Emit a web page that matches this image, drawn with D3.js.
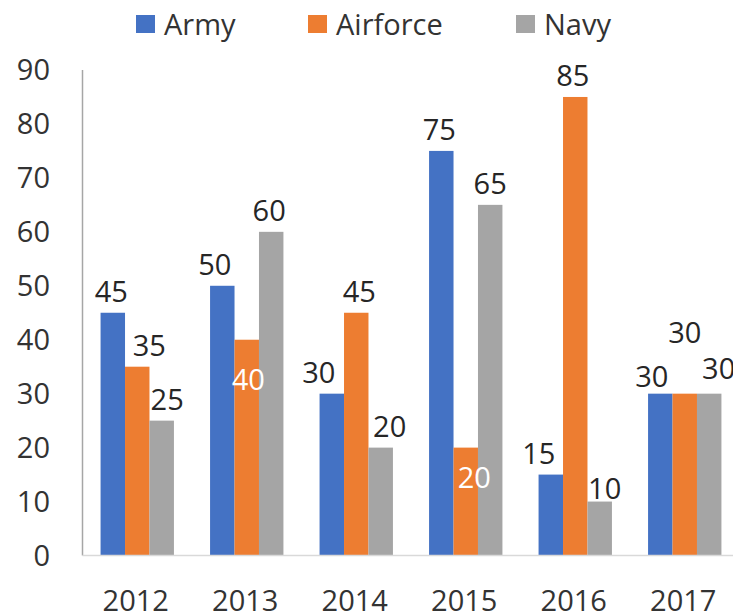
<!DOCTYPE html>
<meta charset="utf-8">
<script src="https://d3js.org/d3.v7.min.js"></script>
<style>
  body { margin: 0; background: #fff; }
  text { font-family: "Open Sans", sans-serif; }
</style>
<div id="chart"></div>
<script>

// data
var years = ["2012", "2013", "2014", "2015", "2016", "2017"];
var seriesNames = ["Army", "Airforce", "Navy"];
var army = [45, 50, 30, 75, 15, 30];
var airforce = [35, 40, 45, 20, 85, 30];
var navy = [25, 60, 20, 65, 10, 30];
var yTicks = [0, 10, 20, 30, 40, 50, 60, 70, 80, 90];

var values = { Army: army, Airforce: airforce, Navy: navy };
var colors = { Army: "#4472C4", Airforce: "#ED7D31", Navy: "#A5A5A5" };

// label nudges [dx, dy] - the original moved some labels around to avoid overlaps
var nudge = {
  Army:     [[-1.5, 0], [-7.5, 0], [-13, 0], [-2, 0], [-12, 0], [-8.5, 3.5]],
  Airforce: [[12, 0], [1.5, 61], [3, 0], [8.5, 51], [-2.5, 0], [0, -40.5]],
  Navy:     [[5.5, 0], [-2, 0], [9, 0], [0, 0], [5, 8], [9.5, -4.5]]
};
// labels drawn inside the bar in white
var insideLabel = { "Airforce-1": true, "Airforce-3": true };

var width = 733, height = 615;
var svg = d3.select("#chart").append("svg")
    .attr("width", width)
    .attr("height", height);

var x0 = d3.scaleBand()
    .domain(years)
    .range([82.5, 739.5])
    .paddingInner(0.33)
    .paddingOuter(0.165);

var x1 = d3.scaleBand()
    .domain(seriesNames)
    .range([0, x0.bandwidth()]);

var y = d3.scaleLinear()
    .domain([0, 90])
    .range([555.5, 70]);

// y tick labels (no gridlines)
svg.append("g").selectAll("text")
  .data(yTicks)
  .enter().append("text")
    .attr("x", 50)
    .attr("y", function(d) { return y(d); })
    .attr("dy", "0.36em")
    .attr("text-anchor", "end")
    .style("font-size", "29px")
    .style("fill", "#333")
    .text(function(d) { return d; });

// bars
var groups = svg.append("g").selectAll("g")
  .data(years)
  .enter().append("g")
    .attr("transform", function(d) { return "translate(" + x0(d) + ",0)"; });

groups.selectAll("rect")
  .data(function(d, i) { return seriesNames.map(function(s) { return { s: s, i: i, v: values[s][i] }; }); })
  .enter().append("rect")
    .attr("x", function(d) { return x1(d.s); })
    .attr("y", function(d) { return y(d.v); })
    .attr("width", x1.bandwidth())
    .attr("height", function(d) { return y(0) - y(d.v); })
    .style("fill", function(d) { return colors[d.s]; });

// axis lines
svg.append("line")
    .attr("x1", 82.5).attr("x2", 82.5)
    .attr("y1", y(90)).attr("y2", y(0))
    .style("stroke", "#a6a6a6")
    .style("stroke-width", 1.5);
svg.append("line")
    .attr("x1", 82.5).attr("x2", width)
    .attr("y1", y(0)).attr("y2", y(0))
    .style("stroke", "#d9d9d9")
    .style("stroke-width", 1.5);

// data labels
groups.selectAll("text")
  .data(function(d, i) { return seriesNames.map(function(s) { return { s: s, i: i, v: values[s][i] }; }); })
  .enter().append("text")
    .attr("x", function(d) { return x1(d.s) + x1.bandwidth() / 2 + nudge[d.s][d.i][0]; })
    .attr("y", function(d) { return y(d.v) - 21 + nudge[d.s][d.i][1]; })
    .attr("dy", "0.36em")
    .attr("text-anchor", "middle")
    .style("font-size", "29px")
    .style("fill", function(d) { return insideLabel[d.s + "-" + d.i] ? "#fff" : "#262626"; })
    .text(function(d) { return d.v; });

// x labels
svg.append("g").selectAll("text")
  .data(years)
  .enter().append("text")
    .attr("x", function(d) { return x0(d) + x0.bandwidth() / 2 - 1.5; })
    .attr("y", 601)
    .attr("dy", "0.36em")
    .attr("text-anchor", "middle")
    .style("font-size", "29px")
    .style("fill", "#333")
    .text(function(d) { return d; });

// legend
var legendX = [136, 308, 516];
var legend = svg.append("g").selectAll("g")
  .data(seriesNames)
  .enter().append("g")
    .attr("transform", function(d, i) { return "translate(" + legendX[i] + ",15)"; });
legend.append("rect")
    .attr("width", 19).attr("height", 18)
    .style("fill", function(d) { return colors[d]; });
legend.append("text")
    .attr("x", 28)
    .attr("y", 20)
    .style("font-size", "29px")
    .style("fill", "#333")
    .text(function(d) { return d; });

</script>
